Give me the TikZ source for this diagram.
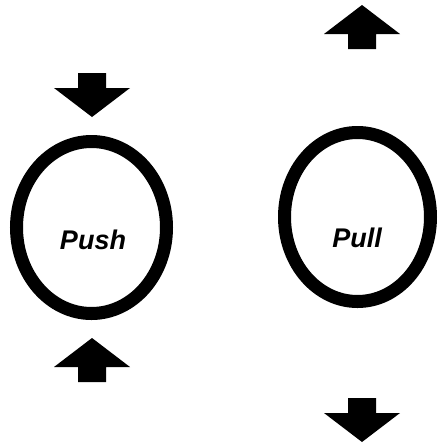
\documentclass[tikz,border=0pt]{standalone}
\usepackage{fontspec}
\setmainfont{Liberation Sans}
\begin{document}
\begin{tikzpicture}[x=1pt,y=-1pt,
  ring/.style={draw=black, line width=13pt},
  label/.style={font=\fontsize{27}{30}\selectfont\bfseries\itshape, inner sep=0pt},
  pic arrow/.style={fill=black},
  downarrow/.pic={\fill[pic arrow] (-14,-22) -- (14,-22) -- (14,-7) -- (38,-7) -- (0,22) -- (-38,-7) -- (-14,-7) -- cycle;},
  uparrow/.pic={\fill[pic arrow] (-14,22) -- (14,22) -- (14,7) -- (38,7) -- (0,-22) -- (-38,7) -- (-14,7) -- cycle;}
]
\useasboundingbox (0,0) rectangle (437,445);
% Push: ring with arrows pressing inward
\draw[ring] (91.5,227.5) ellipse [x radius=75, y radius=86];
\node[label] (push) at (93,240) {Push};
\pic (pushtop) at (92,95) {downarrow};
\pic (pushbot) at (92,360) {uparrow};
% Pull: ring with arrows pointing outward
\draw[ring] (357.5,217) ellipse [x radius=73, y radius=84.5];
\node[label] (pull) at (357,238) {Pull};
\pic (pulltop) at (362,27) {uparrow};
\pic (pullbot) at (362,420) {downarrow};
\end{tikzpicture}
\end{document}
